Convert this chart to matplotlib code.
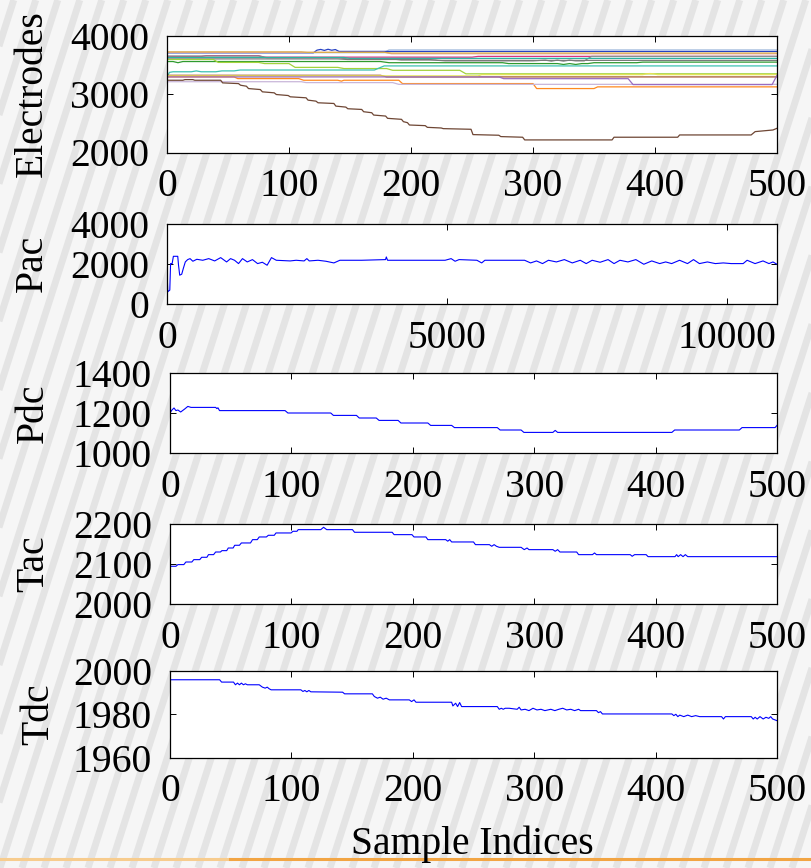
import matplotlib
matplotlib.use("Agg")
import matplotlib.pyplot as plt

plt.rcParams['font.family'] = ['Liberation Serif', 'DejaVu Serif']

# ---------------- data ----------------
# Electrodes panel: (x, y) keypoints per electrode line
elec_colors = ['#b5c8e4', '#2742c4', '#eba39a', '#d9ad4c', '#d8337f', '#8e8e8e',
               '#2bb3a3', '#7a7a7a', '#2f9a2f', '#a2d23c', '#3cc2b2', '#a5562f',
               '#e4e45a', '#ff8a1f', '#c9b6d9', '#9a6cc0', '#6e4634']
elec_x = [
    [0, 178, 182, 500],
    [0, 120, 123, 126, 129, 132, 135, 138, 141, 500],
    [0, 178, 184, 500],
    [0, 110, 115, 178, 184, 500],
    [0, 28, 32, 75, 80, 250, 255, 500],
    [0, 75, 82, 140, 148, 185, 192, 220, 228, 300, 310, 315, 320, 325, 330, 335, 342, 348, 500],
    [0, 145, 150, 500],
    [0, 140, 148, 215, 222, 500],
    [0, 5, 7, 9, 11, 13, 15, 175, 182, 275, 280, 320, 325, 330, 335, 340, 345, 350, 385, 390, 500],
    [0, 38, 42, 75, 80, 100, 105, 140, 145, 180, 185, 240, 245, 500],
    [0, 2, 5, 20, 24, 28, 40, 45, 55, 60, 170, 178, 500],
    [0, 175, 180, 500],
    [0, 255, 258, 390, 393, 396, 399, 402, 500],
    [0, 55, 58, 108, 112, 140, 143, 145, 147, 190, 193, 300, 303, 350, 353, 500],
    [0, 110, 114, 185, 190, 500],
    [0, 272, 276, 378, 382, 496, 500],
    [0, 13.0, 14.7, 21.2, 22.8, 44.0, 45.6, 58.6, 60.3, 65.1, 66.8, 76.5, 78.2, 87.9, 89.6,
     99.3, 101.0, 114.0, 115.6, 122.1, 123.8, 136.8, 138.4, 146.6, 148.2, 159.6, 161.2,
     167.8, 169.4, 179.2, 180.8, 192.2, 193.8, 197.1, 198.7, 211.7, 213.4, 224.8, 226.4,
     249.2, 250.8, 272.0, 273.6, 291.5, 293.2, 364.8, 366.4, 418.6, 420.2, 478.8, 482.1,
     496.7, 500],
]
elec_y = [
    [3705, 3705, 3756, 3756],
    [3705, 3705, 3750, 3762, 3745, 3765, 3748, 3760, 3728, 3728],
    [3712, 3712, 3688, 3688],
    [3720, 3720, 3712, 3712, 3700, 3700],
    [3640, 3640, 3655, 3655, 3630, 3630, 3643, 3643],
    [3650, 3650, 3620, 3620, 3600, 3600, 3580, 3580, 3565, 3565, 3580, 3560, 3580, 3560,
     3580, 3565, 3565, 3643, 3643],
    [3625, 3625, 3609, 3609],
    [3600, 3600, 3590, 3590, 3575, 3575],
    [3555, 3555, 3545, 3535, 3545, 3555, 3555, 3555, 3535, 3535, 3520, 3520, 3505, 3520,
     3505, 3520, 3520, 3535, 3535, 3545, 3545],
    [3590, 3590, 3540, 3540, 3520, 3520, 3455, 3455, 3435, 3435, 3405, 3405, 3345, 3345],
    [3290, 3370, 3380, 3380, 3395, 3380, 3380, 3395, 3395, 3410, 3410, 3480, 3480],
    [3320, 3320, 3292, 3292],
    [3310, 3310, 3331, 3331, 3345, 3350, 3345, 3331, 3331],
    [3292, 3292, 3263, 3263, 3235, 3235, 3220, 3235, 3235, 3235, 3178, 3178, 3093, 3093,
     3122, 3122],
    [3210, 3210, 3195, 3195, 3165, 3165],
    [3292, 3292, 3262, 3262, 3161, 3161, 3320],
    [3235, 3235, 3246, 3246, 3235, 3235, 3190, 3178, 3150, 3133, 3093, 3076, 3037, 3020,
     2991, 2974, 2952, 2935, 2895, 2878, 2850, 2838, 2793, 2776, 2748, 2736, 2697, 2680,
     2640, 2623, 2584, 2567, 2527, 2510, 2470, 2459, 2430, 2419, 2408, 2397, 2306, 2295,
     2272, 2261, 2215, 2215, 2261, 2261, 2300, 2300, 2357, 2385, 2414],
]

pac_x = [0, 14, 50, 64, 92, 114, 192, 206, 227, 263, 291, 327, 369, 412, 462, 533, 639, 746,
         852, 959, 1065, 1136, 1207, 1278, 1349, 1434, 1527, 1619, 1704, 1789, 1867, 1953,
         2201, 2308, 2450, 2499, 2542, 2698, 2840, 2982, 3089, 3479, 3905, 3919, 3941, 4970,
         5077, 5148, 5219, 5538, 5623, 5680, 6390, 6497, 6603, 6710, 6816, 6958, 7100, 7242,
         7384, 7491, 7597, 7739, 7881, 7988, 8094, 8236, 8378, 8520, 8662, 8804, 8911, 9017,
         9159, 9301, 9408, 9514, 9656, 9798, 9940, 10082, 10295, 10366, 10508, 10650, 10757,
         10828, 10899]
pac_y = [1679, 609, 691, 2008, 2008, 2370, 2370, 1926, 1432, 1481, 1761, 2090, 2206, 2255,
         2124, 2222, 2173, 2255, 2140, 2305, 2090, 2255, 2173, 2008, 2255, 2090, 2206, 2008,
         2074, 1926, 2305, 2173, 2140, 2173, 2140, 2255, 2140, 2173, 2124, 2041, 2173, 2173,
         2206, 2337, 2173, 2173, 2255, 2124, 2206, 2173, 2041, 2173, 2173, 2041, 2140, 2008,
         2173, 2090, 2206, 2041, 2173, 2008, 2173, 2074, 2206, 2008, 2173, 2090, 2206, 1975,
         2140, 2008, 2090, 2008, 2173, 2008, 2206, 2008, 2090, 2008, 2041, 2008, 2008, 2173,
         2008, 2140, 2008, 2090, 1975]

pdc_x = [0, 1.6, 3.3, 4.9, 6.5, 8.8, 12.1, 14.7, 17.3, 37.6, 38.6, 39.5, 40.8, 94.8, 97.1,
         132.4, 134.6, 153.6, 155.9, 169.9, 172.2, 187.9, 190.2, 212.4, 214.7, 232.0, 234.3,
         269.6, 271.9, 289.2, 291.5, 315.4, 317.3, 319.3, 413.4, 415.7, 469.0, 471.2, 498.4,
         500]
pdc_y = [1200, 1215, 1225, 1212, 1215, 1205, 1220, 1233, 1228, 1228, 1222, 1226, 1212, 1212,
         1200, 1200, 1188, 1188, 1175, 1175, 1163, 1163, 1150, 1150, 1138, 1138, 1127, 1127,
         1115, 1115, 1103, 1103, 1113, 1103, 1103, 1115, 1115, 1127, 1127, 1138]

tac_x = [0, 4.9, 6.5, 11.4, 13.1, 18.0, 19.6, 24.5, 26.1, 30.4, 31.7, 35.9, 37.6, 41.5, 42.8,
         46.7, 48.0, 52.0, 53.3, 57.2, 58.8, 66.3, 68.0, 71.9, 73.5, 79.4, 81.0, 85.9, 87.3,
         99.7, 101.3, 104.6, 105.6, 124.2, 126.5, 129.1, 150.3, 152.0, 183.0, 184.6, 199.3,
         201.0, 210.8, 212.4, 227.1, 228.8, 230.4, 232.0, 250.0, 251.6, 263.1, 265.0, 267.0,
         268.9, 271.2, 289.2, 291.8, 294.1, 295.7, 315.4, 317.3, 319.3, 321.2, 335.0, 336.6,
         348.0, 349.7, 351.3, 379.1, 380.7, 382.7, 392.2, 393.8, 416.0, 417.3, 418.6, 420.6,
         422.6, 424.5, 426.5, 500]
tac_y = [2094.3, 2094.3, 2098.5, 2098.5, 2105.0, 2105.0, 2110.9, 2110.9, 2116.8, 2116.8,
         2123.4, 2123.4, 2130.0, 2130.0, 2133.4, 2133.4, 2140.0, 2140.0, 2146.8, 2146.8,
         2152.6, 2152.6, 2160.9, 2160.9, 2167.6, 2167.6, 2171.8, 2171.8, 2177.6, 2177.6,
         2181.8, 2181.8, 2185.9, 2185.9, 2191.8, 2185.9, 2185.9, 2179.3, 2179.3, 2173.4,
         2173.4, 2167.6, 2167.6, 2160.9, 2160.9, 2157.0, 2160.9, 2155.1, 2155.1, 2148.4,
         2148.4, 2144.3, 2148.4, 2144.3, 2141.7, 2141.7, 2135.9, 2140.0, 2135.9, 2135.9,
         2131.8, 2135.9, 2130.0, 2130.0, 2123.4, 2123.4, 2127.6, 2123.4, 2123.4, 2119.3,
         2123.4, 2123.4, 2118.4, 2118.4, 2123.4, 2118.4, 2123.4, 2118.4, 2123.4, 2118.4,
         2118.4]

tdc_x = [0, 40.9, 42.5, 52.3, 53.9, 55.6, 57.2, 58.8, 60.5, 62.1, 63.7, 73.5, 76.1, 78.4,
         80.1, 81.7, 83.3, 107.8, 109.5, 111.1, 112.7, 114.4, 116.0, 142.2, 143.8, 166.7,
         168.3, 170.9, 173.2, 175.5, 178.1, 180.7, 197.1, 199.0, 201.0, 202.6, 232.0, 233.0,
         235.3, 236.9, 238.6, 240.2, 269.6, 271.2, 272.9, 274.5, 276.1, 279.4, 286.0, 287.6,
         289.2, 292.5, 295.7, 299.0, 302.3, 305.6, 308.8, 313.7, 317.0, 320.3, 323.5, 326.8,
         330.1, 333.3, 336.6, 338.2, 351.3, 352.9, 354.6, 356.2, 413.4, 415.0, 416.7, 418.3,
         419.9, 423.2, 426.5, 429.7, 433.0, 436.3, 454.3, 455.9, 457.5, 478.8, 480.4, 482.0,
         483.7, 486.0, 488.6, 490.9, 493.2, 494.8, 496.4, 500]
tdc_y = [1995.95, 1995.95, 1994.87, 1994.87, 1993.63, 1994.40, 1993.63, 1994.40, 1993.63,
         1994.09, 1993.63, 1993.63, 1992.54, 1992.07, 1992.54, 1991.77, 1991.30, 1991.30,
         1990.53, 1991.00, 1990.37, 1991.00, 1990.37, 1990.20, 1989.44, 1989.44, 1988.20,
         1987.43, 1987.90, 1986.96, 1987.43, 1986.65, 1986.65, 1985.87, 1986.65, 1985.56,
         1985.56, 1983.85, 1985.10, 1983.55, 1985.41, 1983.55, 1983.55, 1982.30, 1982.77,
         1982.30, 1982.77, 1982.77, 1982.30, 1983.24, 1981.99, 1982.30, 1981.68, 1982.77,
         1981.99, 1982.30, 1981.68, 1982.30, 1981.68, 1982.30, 1982.77, 1981.99, 1982.30,
         1981.68, 1982.30, 1981.68, 1981.68, 1980.75, 1981.21, 1980.14, 1980.14, 1979.36,
         1979.98, 1978.90, 1979.60, 1978.90, 1979.60, 1978.90, 1979.36, 1978.90, 1978.90,
         1977.81, 1978.90, 1978.90, 1977.81, 1978.60, 1977.81, 1978.90, 1977.81, 1978.60,
         1978.10, 1978.90, 1977.81, 1977.03]

ylabels = ['Electrodes', 'Pac', 'Pdc', 'Tac', 'Tdc']
ylims = [(2000, 4000), (0, 4000), (1000, 1400), (2000, 2200), (1960, 2000)]
yticks = [[2000, 3000, 4000], [0, 2000, 4000], [1000, 1200, 1400],
          [2000, 2100, 2200], [1960, 1980, 2000]]
xticks_std = [0, 100, 200, 300, 400, 500]
pac_xticks = [0, 5000, 10000]

# ---------------- figure ----------------
W, H = 811, 868
fig = plt.figure(figsize=(W / 100, H / 100), dpi=100)
fig.patch.set_facecolor('#f6f6f6')

# decorative striped background
bg = fig.add_axes([0, 0, 1, 1], zorder=-10)
bg.set_xlim(0, W)
bg.set_ylim(0, H)
bg.axis('off')
for i in range(-20, 50):
    x0 = i * 22
    bg.plot([x0, x0 + 0.32 * H], [0, H], color='#dedede', lw=5, alpha=0.75,
            solid_capstyle='butt')
bg.plot([0, 230], [9, 9], color='#f7cc8e', lw=2.2)
bg.plot([230, W], [9, 9], color='#f2a544', lw=2.2)

# axes boxes in pixels (left, right, top, bottom)
boxes = [(167, 777, 35.5, 152.5), (167, 777, 223.5, 304), (170, 777, 373, 453),
         (170, 777, 524, 604), (170, 777, 671, 757.5)]
FS = 28.5
axes = []
for k, (l, r, t, b) in enumerate(boxes):
    ax = fig.add_axes([l / W, 1 - b / H, (r - l) / W, (b - t) / H])
    ax.set_facecolor('white')
    axes.append(ax)
    for s in ax.spines.values():
        s.set_linewidth(0.9)
    ax.tick_params(direction='in', top=True, right=True, length=4, width=0.7,
                   labelsize=FS)
    ax.tick_params(axis='x', pad=11.5)
    ax.tick_params(axis='y', pad=13)
    ax.set_ylim(*ylims[k])
    ax.set_yticks(yticks[k])
    if k == 1:
        ax.set_xlim(0, 10900)
        ax.set_xticks(pac_xticks)
    else:
        ax.set_xlim(0, 500)
        ax.set_xticks(xticks_std)
    cy = 1 - (t + b) / 2 / H
    fig.text([42, 42, 43, 43, 48][k] / W, cy, ylabels[k], rotation=90,
             rotation_mode='anchor', ha='center', va='baseline', fontsize=FS)

for xs, ys, c in zip(elec_x, elec_y, elec_colors):
    axes[0].plot(xs, ys, color=c, lw=0.9)
axes[1].plot(pac_x, pac_y, color='#0000ff', lw=0.8)
axes[2].plot(pdc_x, pdc_y, color='#0000ff', lw=0.8)
axes[3].plot(tac_x, tac_y, color='#0000ff', lw=0.8)
axes[4].plot(tdc_x, tdc_y, color='#0000ff', lw=0.8)

fig.text(472 / W, 1 - 854 / H, 'Sample Indices', ha='center', va='baseline', fontsize=FS)

fig.savefig('out.png', dpi=100, facecolor=fig.get_facecolor())
